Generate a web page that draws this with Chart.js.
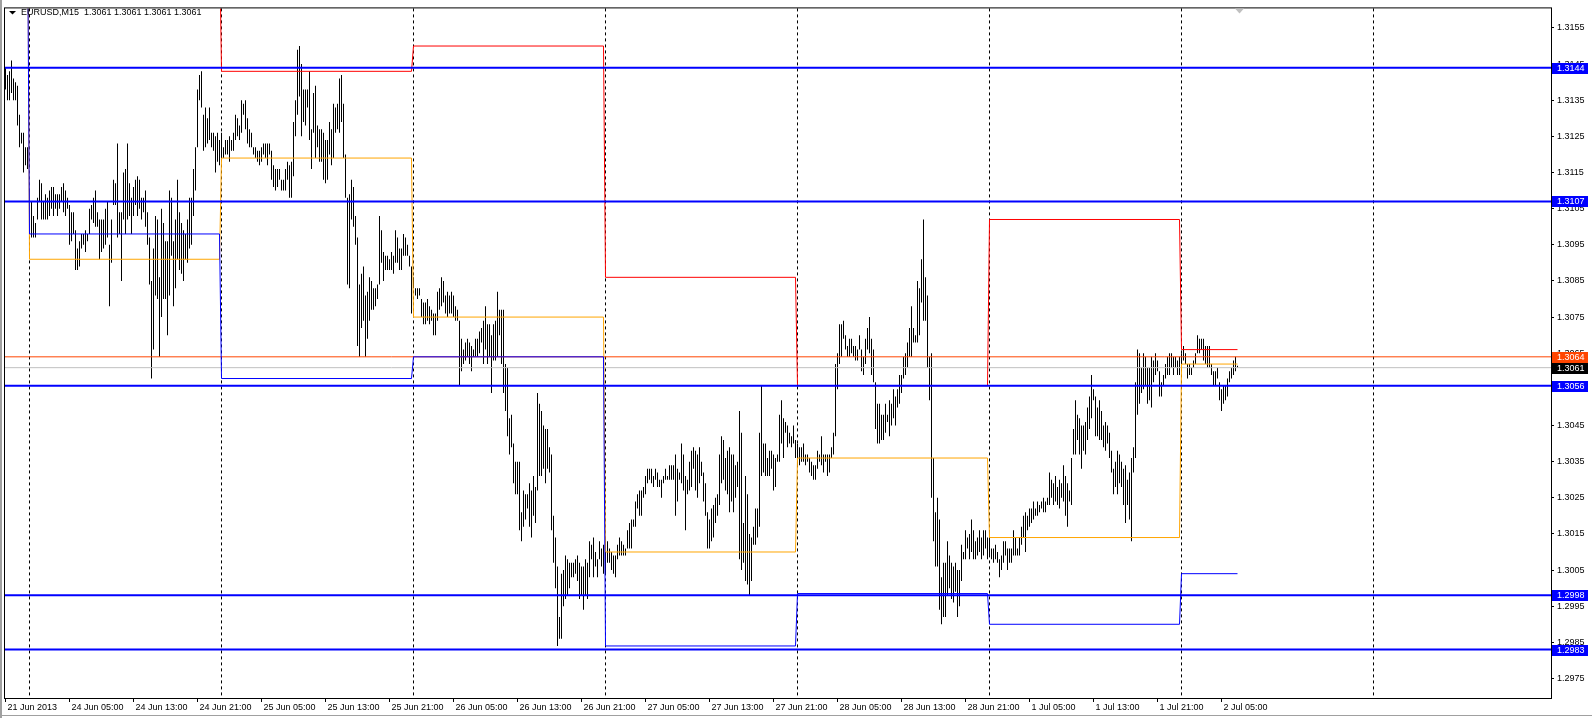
<!DOCTYPE html>
<html>
<head>
<meta charset="utf-8">
<title>EURUSD,M15</title>
<script src="https://cdn.jsdelivr.net/npm/chart.js@4.4.0/dist/chart.umd.min.js"></script>
<style>
  html, body { margin: 0; padding: 0; background: #fff; }
</style>
</head>
<body>
<canvas id="chart" width="1592" height="718"></canvas>
<script>
// EURUSD M15 bars, one pair of arrays per trading day (high / low)
const hi0621 = [1.3144,1.3142,1.3143,1.3146,1.3141,1.3140,1.3139,1.3131,1.3126,1.3126,1.3122,1.3122];
const lo0621 = [1.3138,1.3135,1.3135,1.3137,1.3135,1.3135,1.3128,1.3122,1.3123,1.3115,1.3117,1.3116];

const hi0624 = [
  1.3110,1.3107,1.3103,1.3101,1.3108,1.3113,1.3112,1.3107,1.3109,1.3108,1.3110,1.3111,
  1.3111,1.3109,1.3109,1.3109,1.3111,1.3112,1.3110,1.3108,1.3106,1.3104,1.3104,1.3099,
  1.3094,1.3096,1.3098,1.3098,1.3099,1.3098,1.3105,1.3106,1.3108,1.3110,1.3104,1.3102,
  1.3102,1.3102,1.3105,1.3107,1.3095,1.3102,1.3113,1.3112,1.3123,1.3104,1.3104,1.3115,
  1.3116,1.3123,1.3112,1.3108,1.3111,1.3113,1.3114,1.3113,1.3108,1.3108,1.3110,1.3104,
  1.3097,1.3085,1.3094,1.3103,1.3102,1.3086,1.3105,1.3101,1.3096,1.3096,1.3110,1.3108,
  1.3096,1.3102,1.3113,1.3104,1.3101,1.3099,1.3098,1.3102,1.3108,1.3108,1.3116,1.3122,
  1.3138,1.3142,1.3143,1.3131,1.3133,1.3130,1.3133,1.3126,1.3126,1.3125,1.3126,1.3124];
const lo0624 = [
  1.3100,1.3097,1.3097,1.3097,1.3102,1.3107,1.3102,1.3102,1.3102,1.3102,1.3103,1.3105,
  1.3103,1.3105,1.3103,1.3105,1.3107,1.3104,1.3103,1.3105,1.3095,1.3096,1.3098,1.3088,
  1.3088,1.3089,1.3094,1.3095,1.3093,1.3096,1.3098,1.3102,1.3101,1.3100,1.3100,1.3091,
  1.3093,1.3094,1.3095,1.3097,1.3078,1.3090,1.3106,1.3106,1.3097,1.3098,1.3085,1.3102,
  1.3098,1.3102,1.3103,1.3098,1.3103,1.3106,1.3103,1.3105,1.3102,1.3104,1.3100,1.3095,
  1.3084,1.3058,1.3066,1.3081,1.3080,1.3064,1.3075,1.3080,1.3080,1.3070,1.3081,1.3092,
  1.3078,1.3083,1.3091,1.3088,1.3087,1.3085,1.3091,1.3090,1.3094,1.3095,1.3103,1.3110,
  1.3122,1.3135,1.3133,1.3121,1.3122,1.3123,1.3124,1.3122,1.3121,1.3115,1.3118,1.3117];

const hi0625 = [
  1.3126,1.3122,1.3124,1.3124,1.3125,1.3124,1.3126,1.3131,1.3130,1.3128,1.3135,1.3134,
  1.3135,1.3130,1.3127,1.3126,1.3122,1.3122,1.3121,1.3121,1.3122,1.3123,1.3123,1.3123,
  1.3123,1.3121,1.3117,1.3116,1.3116,1.3116,1.3113,1.3113,1.3116,1.3118,1.3117,1.3118,
  1.3129,1.3135,1.3149,1.3150,1.3145,1.3138,1.3138,1.3138,1.3143,1.3127,1.3137,1.3139,
  1.3128,1.3127,1.3127,1.3126,1.3124,1.3124,1.3129,1.3127,1.3134,1.3133,1.3134,1.3141,
  1.3142,1.3134,1.3120,1.3108,1.3109,1.3113,1.3111,1.3103,1.3097,1.3084,1.3087,1.3089,
  1.3081,1.3082,1.3086,1.3085,1.3083,1.3083,1.3084,1.3103,1.3099,1.3093,1.3092,1.3092,
  1.3091,1.3093,1.3092,1.3099,1.3097,1.3094,1.3094,1.3098,1.3097,1.3095,1.3092,1.3089];
const lo0625 = [
  1.3119,1.3119,1.3120,1.3120,1.3118,1.3121,1.3121,1.3124,1.3125,1.3124,1.3126,1.3131,
  1.3127,1.3123,1.3122,1.3122,1.3120,1.3119,1.3118,1.3117,1.3118,1.3120,1.3119,1.3117,
  1.3120,1.3113,1.3111,1.3110,1.3111,1.3113,1.3110,1.3110,1.3110,1.3113,1.3108,1.3108,
  1.3114,1.3125,1.3131,1.3136,1.3125,1.3129,1.3128,1.3133,1.3124,1.3116,1.3126,1.3119,
  1.3122,1.3118,1.3118,1.3113,1.3112,1.3113,1.3120,1.3117,1.3119,1.3126,1.3127,1.3126,
  1.3129,1.3119,1.3108,1.3084,1.3083,1.3102,1.3100,1.3095,1.3067,1.3064,1.3072,1.3074,
  1.3064,1.3069,1.3074,1.3077,1.3077,1.3078,1.3080,1.3084,1.3090,1.3085,1.3088,1.3088,
  1.3088,1.3088,1.3087,1.3090,1.3090,1.3088,1.3088,1.3092,1.3092,1.3092,1.3089,1.3076];

const hi0626 = [
  1.3086,1.3083,1.3083,1.3083,1.3080,1.3079,1.3079,1.3080,1.3078,1.3077,1.3076,1.3076,
  1.3082,1.3083,1.3086,1.3085,1.3081,1.3082,1.3081,1.3082,1.3081,1.3078,1.3077,1.3074,
  1.3069,1.3066,1.3068,1.3069,1.3068,1.3067,1.3066,1.3069,1.3069,1.3071,1.3072,1.3074,
  1.3078,1.3073,1.3073,1.3070,1.3073,1.3074,1.3082,1.3077,1.3077,1.3077,1.3062,1.3061,
  1.3047,1.3048,1.3040,1.3035,1.3035,1.3035,1.3021,1.3027,1.3026,1.3026,1.3029,1.3027,
  1.3031,1.3028,1.3054,1.3051,1.3049,1.3045,1.3044,1.3044,1.3039,1.3037,1.3020,1.3014,
  1.3006,1.2992,1.3004,1.3005,1.3009,1.3008,1.3007,1.3007,1.3007,1.3008,1.3009,1.3007,
  1.3006,1.3006,1.3008,1.3007,1.3013,1.3012,1.3014,1.3010,1.3008,1.3013,1.3011,1.3012];
const lo0626 = [
  1.3083,1.3081,1.3080,1.3081,1.3075,1.3073,1.3073,1.3074,1.3073,1.3074,1.3070,1.3070,
  1.3074,1.3077,1.3078,1.3079,1.3076,1.3075,1.3076,1.3076,1.3075,1.3074,1.3074,1.3056,
  1.3060,1.3062,1.3063,1.3064,1.3062,1.3060,1.3064,1.3064,1.3064,1.3065,1.3068,1.3062,
  1.3066,1.3062,1.3064,1.3054,1.3063,1.3063,1.3064,1.3070,1.3062,1.3054,1.3049,1.3042,
  1.3037,1.3039,1.3029,1.3026,1.3026,1.3016,1.3013,1.3017,1.3019,1.3022,1.3017,1.3014,
  1.3020,1.3018,1.3027,1.3031,1.3031,1.3033,1.3029,1.3033,1.3032,1.3016,1.3007,1.3000,
  1.2984,1.2986,1.2986,1.2995,1.2997,1.2998,1.3000,1.3003,1.3003,1.3004,1.3002,1.2997,
  1.2998,1.2994,1.2998,1.2997,1.3003,1.3008,1.3003,1.3006,1.3003,1.3008,1.3006,1.3004];

const hi0627 = [
  1.3014,1.3013,1.3011,1.3010,1.3009,1.3009,1.3012,1.3014,1.3013,1.3012,1.3011,1.3016,
  1.3018,1.3019,1.3019,1.3024,1.3026,1.3027,1.3027,1.3028,1.3031,1.3033,1.3033,1.3033,
  1.3031,1.3033,1.3032,1.3030,1.3030,1.3031,1.3033,1.3031,1.3034,1.3034,1.3034,1.3037,
  1.3033,1.3032,1.3040,1.3037,1.3031,1.3030,1.3035,1.3038,1.3039,1.3038,1.3037,1.3039,
  1.3035,1.3032,1.3029,1.3021,1.3019,1.3022,1.3023,1.3025,1.3026,1.3037,1.3042,1.3041,
  1.3036,1.3038,1.3039,1.3037,1.3037,1.3034,1.3035,1.3049,1.3043,1.3018,1.3031,1.3026,
  1.3015,1.3014,1.3017,1.3022,1.3022,1.3043,1.3056,1.3040,1.3040,1.3036,1.3038,1.3038,
  1.3037,1.3036,1.3037,1.3048,1.3052,1.3047,1.3046,1.3045,1.3043,1.3042,1.3045,1.3041];
const lo0627 = [
  1.3004,1.3007,1.3007,1.3005,1.3004,1.3003,1.3008,1.3009,1.3009,1.3009,1.3009,1.3011,
  1.3011,1.3011,1.3017,1.3017,1.3022,1.3020,1.3020,1.3025,1.3026,1.3029,1.3030,1.3029,
  1.3028,1.3030,1.3028,1.3028,1.3025,1.3029,1.3030,1.3030,1.3030,1.3030,1.3030,1.3020,
  1.3024,1.3030,1.3029,1.3027,1.3016,1.3026,1.3027,1.3028,1.3033,1.3027,1.3025,1.3029,
  1.3031,1.3024,1.3020,1.3011,1.3011,1.3013,1.3014,1.3018,1.3020,1.3023,1.3029,1.3030,
  1.3027,1.3026,1.3021,1.3024,1.3021,1.3025,1.3028,1.3008,1.3005,1.3007,1.3002,1.3001,
  1.2998,1.3002,1.3012,1.3012,1.3014,1.3017,1.3031,1.3032,1.3031,1.3031,1.3031,1.3033,
  1.3027,1.3028,1.3035,1.3035,1.3040,1.3036,1.3043,1.3039,1.3040,1.3039,1.3040,1.3036];

const hi0628 = [
  1.3040,1.3039,1.3039,1.3040,1.3037,1.3037,1.3036,1.3035,1.3034,1.3034,1.3038,1.3037,
  1.3042,1.3037,1.3037,1.3037,1.3037,1.3039,1.3043,1.3062,1.3065,1.3073,1.3073,1.3074,
  1.3070,1.3067,1.3069,1.3069,1.3067,1.3067,1.3066,1.3070,1.3066,1.3064,1.3069,1.3072,
  1.3075,1.3069,1.3066,1.3057,1.3051,1.3051,1.3048,1.3048,1.3051,1.3048,1.3052,1.3051,
  1.3055,1.3053,1.3055,1.3059,1.3059,1.3064,1.3065,1.3068,1.3072,1.3078,1.3072,1.3070,
  1.3085,1.3083,1.3091,1.3102,1.3086,1.3081,1.3064,1.3065,1.3036,1.3021,1.3025,1.3019,
  1.3003,1.3007,1.3007,1.3013,1.3009,1.3007,1.3006,1.3007,1.3005,1.3005,1.3012,1.3010,
  1.3016,1.3014,1.3015,1.3019,1.3016,1.3013,1.3014,1.3016,1.3014,1.3016,1.3016,1.3014];
const lo0628 = [
  1.3034,1.3034,1.3035,1.3035,1.3034,1.3035,1.3032,1.3031,1.3030,1.3030,1.3033,1.3035,
  1.3034,1.3032,1.3035,1.3031,1.3032,1.3036,1.3037,1.3042,1.3055,1.3062,1.3064,1.3069,
  1.3066,1.3064,1.3064,1.3065,1.3064,1.3063,1.3063,1.3066,1.3060,1.3059,1.3062,1.3066,
  1.3065,1.3059,1.3057,1.3044,1.3040,1.3040,1.3041,1.3041,1.3043,1.3046,1.3042,1.3045,
  1.3047,1.3045,1.3050,1.3051,1.3054,1.3058,1.3059,1.3061,1.3064,1.3064,1.3068,1.3068,
  1.3068,1.3070,1.3079,1.3074,1.3074,1.3061,1.3052,1.3025,1.3013,1.3006,1.3006,1.2994,
  1.2990,1.2992,1.2992,1.2998,1.3000,1.2997,1.2996,1.2999,1.2992,1.2995,1.3002,1.3008,
  1.3008,1.3011,1.3008,1.3010,1.3008,1.3008,1.3009,1.3010,1.3008,1.3009,1.3011,1.3008];

const hi0701 = [
  1.3016,1.3011,1.3011,1.3012,1.3010,1.3008,1.3009,1.3013,1.3013,1.3011,1.3011,1.3011,
  1.3016,1.3014,1.3011,1.3014,1.3017,1.3020,1.3021,1.3020,1.3022,1.3022,1.3024,1.3022,
  1.3024,1.3023,1.3024,1.3025,1.3024,1.3025,1.3032,1.3030,1.3029,1.3031,1.3028,1.3030,
  1.3029,1.3034,1.3031,1.3029,1.3027,1.3036,1.3044,1.3052,1.3048,1.3047,1.3045,1.3045,
  1.3046,1.3050,1.3053,1.3059,1.3055,1.3053,1.3050,1.3052,1.3049,1.3045,1.3046,1.3045,
  1.3043,1.3038,1.3033,1.3035,1.3038,1.3037,1.3035,1.3033,1.3034,1.3030,1.3032,1.3036,
  1.3039,1.3057,1.3066,1.3065,1.3061,1.3065,1.3064,1.3061,1.3061,1.3064,1.3063,1.3065,
  1.3063,1.3060,1.3057,1.3059,1.3062,1.3064,1.3065,1.3065,1.3064,1.3064,1.3063,1.3064];
const lo0701 = [
  1.3009,1.3008,1.3007,1.3008,1.3007,1.3003,1.3005,1.3007,1.3009,1.3005,1.3007,1.3007,
  1.3009,1.3009,1.3009,1.3009,1.3012,1.3014,1.3010,1.3016,1.3017,1.3018,1.3019,1.3020,
  1.3020,1.3021,1.3022,1.3021,1.3021,1.3023,1.3023,1.3025,1.3023,1.3024,1.3023,1.3022,
  1.3025,1.3024,1.3020,1.3017,1.3024,1.3023,1.3037,1.3037,1.3041,1.3037,1.3033,1.3038,
  1.3037,1.3041,1.3044,1.3047,1.3052,1.3042,1.3042,1.3041,1.3041,1.3039,1.3038,1.3040,
  1.3036,1.3032,1.3026,1.3028,1.3026,1.3029,1.3028,1.3023,1.3018,1.3023,1.3019,1.3013,
  1.3032,1.3036,1.3048,1.3051,1.3054,1.3055,1.3056,1.3051,1.3052,1.3050,1.3057,1.3059,
  1.3060,1.3053,1.3053,1.3056,1.3058,1.3059,1.3059,1.3061,1.3059,1.3061,1.3059,1.3059];

const hi0702 = [
  1.3065,1.3067,1.3065,1.3062,1.3062,1.3061,1.3063,1.3065,1.3070,1.3069,1.3069,1.3069,
  1.3067,1.3067,1.3067,1.3062,1.3060,1.3060,1.3061,1.3057,1.3055,1.3056,1.3056,1.3058,
  1.3060,1.3061,1.3063,1.3064,1.30615];
const lo0702 = [
  1.3062,1.3063,1.3062,1.3058,1.3059,1.3059,1.3061,1.3062,1.3065,1.3065,1.3066,1.3063,
  1.3062,1.3061,1.3061,1.3059,1.3056,1.3056,1.3058,1.3052,1.3049,1.3051,1.3052,1.3053,
  1.3057,1.3058,1.3059,1.3060,1.3061];

// first bar index of each day (21 Jun 21:00 is bar 0)
const dayStarts = [0, 12, 108, 204, 300, 396, 492, 588];
const daySeparators = [12, 108, 204, 300, 396, 492, 588, 684];

// daily levels of the indicator (first two days partly above the window)
const redLevels    = [1.3240, 1.3180, 1.3143, 1.3150, 1.3086, 1.3056, 1.3102, 1.3066];
const orangeLevels = [1.3200, 1.3091, 1.3119, 1.3075, 1.3010, 1.3036, 1.3014, 1.3062];
const blueLevels   = [1.3185, 1.3098, 1.3058, 1.3064, 1.2984, 1.29985, 1.2990, 1.3004];

// horizontal lines
const levelPrices = [1.3144, 1.3107, 1.3056, 1.2998, 1.2983];
const askPrice = 1.3064;
const bidPrice = 1.3061;

// axes
const timeTickBars = [0,32,64,96,128,160,192,224,256,288,320,352,384,416,448,480,512,544,576,608];
const timeLabels = ["21 Jun 2013","24 Jun 05:00","24 Jun 13:00","24 Jun 21:00","25 Jun 05:00",
  "25 Jun 13:00","25 Jun 21:00","26 Jun 05:00","26 Jun 13:00","26 Jun 21:00","27 Jun 05:00",
  "27 Jun 13:00","27 Jun 21:00","28 Jun 05:00","28 Jun 13:00","28 Jun 21:00","1 Jul 05:00",
  "1 Jul 13:00","1 Jul 21:00","2 Jul 05:00"];
const priceTicks = [1.2975,1.2985,1.2995,1.3005,1.3015,1.3025,1.3035,1.3045,1.3055,1.3065,
  1.3075,1.3085,1.3095,1.3105,1.3115,1.3125,1.3135,1.3145,1.3155];
const titleText = "EURUSD,M15  1.3061 1.3061 1.3061 1.3061";

const FONT = "'Liberation Sans', Arial, sans-serif";

// build bars
const dayHighs = [hi0621, hi0624, hi0625, hi0626, hi0627, hi0628, hi0701, hi0702];
const dayLows  = [lo0621, lo0624, lo0625, lo0626, lo0627, lo0628, lo0701, lo0702];
const bars = [];
dayHighs.forEach((hs, d) => {
  hs.forEach((h, k) => bars.push({ x: dayStarts[d] + k, y: [dayLows[d][k], h] }));
});
const lastBar = bars[bars.length - 1].x;

function stepData(levels) {
  const pts = [];
  levels.forEach((v, d) => {
    const end = d < dayStarts.length - 1 ? dayStarts[d + 1] - 1 : lastBar;
    pts.push({ x: dayStarts[d], y: v }, { x: end, y: v });
  });
  return pts;
}

const X_MIN = -0.25, X_MAX = 772.75;
function hline(p, color, width, order) {
  return {
    type: "line", data: [{ x: X_MIN, y: p }, { x: X_MAX, y: p }],
    borderColor: color, borderWidth: width, pointRadius: 0, order: order
  };
}

const datasets = [
  { type: "bar", data: bars, backgroundColor: "#000000", borderWidth: 0,
    barThickness: 1, inflateAmount: 0, grouped: false, order: 5 },
  hline(askPrice, "#ff4500", 1, 4),
  hline(bidPrice, "#c0c0c0", 1, 4),
  { type: "line", data: stepData(blueLevels), borderColor: "#0000ff", borderWidth: 1, pointRadius: 0, order: 3 },
  { type: "line", data: stepData(orangeLevels), borderColor: "#ffa500", borderWidth: 1, pointRadius: 0, order: 3 },
  { type: "line", data: stepData(redLevels), borderColor: "#ff0000", borderWidth: 1, pointRadius: 0, order: 3 }
];
levelPrices.forEach(p => datasets.push(hline(p, "#0000ff", 2, 1)));

const mt4Frame = {
  id: "mt4Frame",
  beforeDatasetsDraw(chart) {
    const { ctx, chartArea: a, scales: { x } } = chart;
    ctx.save();
    ctx.strokeStyle = "#000";
    ctx.lineWidth = 1;
    ctx.setLineDash([3, 3]);
    daySeparators.forEach(i => {
      const px = x.getPixelForValue(i);
      ctx.beginPath();
      ctx.moveTo(px, a.top);
      ctx.lineTo(px, a.bottom);
      ctx.stroke();
    });
    ctx.restore();
  },
  afterDraw(chart) {
    const { ctx, chartArea: a, scales: { y } } = chart;
    ctx.save();
    // frame
    ctx.strokeStyle = "#000";
    ctx.lineWidth = 1;
    ctx.strokeRect(a.left - 0.5, a.top - 0.5, a.right - a.left + 1, a.bottom - a.top + 1);
    // price boxes on the right scale
    ctx.font = "9px " + FONT;
    ctx.textBaseline = "middle";
    const boxes = levelPrices.map(p => [p, "#0000ff"]).concat([[askPrice, "#ff4500"], [bidPrice, "#000000"]]);
    boxes.forEach(([p, c]) => {
      const py = Math.round(y.getPixelForValue(p));
      ctx.fillStyle = c;
      ctx.fillRect(a.right + 1, py - 5, 36, 11);
      ctx.fillStyle = "#fff";
      ctx.fillText(p.toFixed(4), a.right + 6, py + 0.5);
    });
    // title
    ctx.fillStyle = "#000";
    ctx.beginPath();
    ctx.moveTo(9, 11); ctx.lineTo(16, 11); ctx.lineTo(12.5, 14.5); ctx.closePath();
    ctx.fill();
    ctx.fillText(titleText, 21, 13);
    // chart shift marker
    ctx.fillStyle = "#c0c0c0";
    ctx.beginPath();
    ctx.moveTo(1235, a.top); ctx.lineTo(1244, a.top); ctx.lineTo(1239.5, a.top + 5); ctx.closePath();
    ctx.fill();
    // window border
    ctx.fillStyle = "#a0a0a0";
    ctx.fillRect(0, 0, 2, 718);
    ctx.fillRect(0, 715, 1592, 1);
    ctx.restore();
  }
};

new Chart(document.getElementById("chart"), {
  type: "bar",
  data: { datasets: datasets },
  options: {
    responsive: false,
    animation: false,
    devicePixelRatio: 1,
    layout: { padding: { left: 5, top: 4, right: 0, bottom: 0 } },
    plugins: { legend: { display: false }, tooltip: { enabled: false } },
    elements: { line: { tension: 0 } },
    scales: {
      x: {
        type: "linear", min: X_MIN, max: X_MAX, offset: false,
        grid: { drawOnChartArea: false, tickLength: 4, color: "#000", offset: false },
        border: { display: false },
        afterBuildTicks: axis => { axis.ticks = timeTickBars.map(v => ({ value: v })); },
        afterFit: axis => { axis.height = 20; },
        ticks: {
          autoSkip: false, maxRotation: 0, minRotation: 0, align: "start",
          labelOffset: 2, padding: 0, color: "#000",
          font: { family: FONT, size: 9 },
          callback: (v, i) => timeLabels[i]
        }
      },
      y: {
        position: "right",
        min: 1.296960, max: 1.316041,
        grid: { drawOnChartArea: false, tickLength: 3, color: "#000" },
        border: { display: false },
        afterBuildTicks: axis => { axis.ticks = priceTicks.map(v => ({ value: v })); },
        afterFit: axis => { axis.width = 41; },
        ticks: {
          padding: 3, color: "#000",
          font: { family: FONT, size: 9 },
          callback: v => v.toFixed(4)
        }
      }
    }
  },
  plugins: [mt4Frame]
});
</script>
</body>
</html>
